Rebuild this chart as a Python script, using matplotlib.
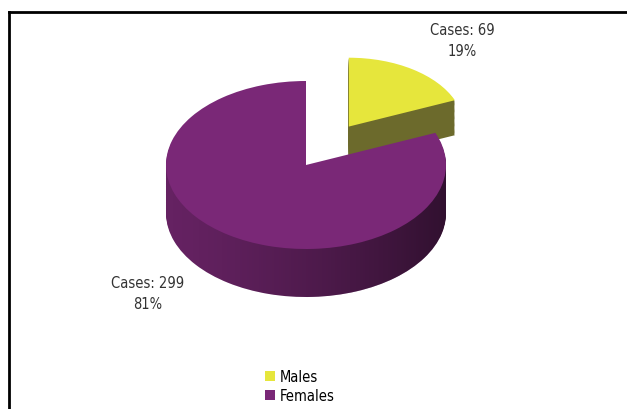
import matplotlib
matplotlib.use("Agg")
import matplotlib.pyplot as plt
from matplotlib.lines import Line2D
from matplotlib.path import Path
from matplotlib.patches import PathPatch
import numpy as np

# Chart data
labels = ["Males", "Females"]
cases = [69, 299]
top_colors = ["#E6E63C", "#7A2877"]
side_colors = ["#6C6A2C", "#652262"]

W, H = 627, 410
fig = plt.figure(figsize=(W / 100, H / 100), dpi=100)
ax = fig.add_axes([0, 0, 1, 1])

# pie geometry (pixels): centre, radii and thickness of the disc
cx, cy = 306, 166
rx, ry = 140, 84
depth_px = 48
yellow_r = 0.82
explode = [0.55, 0]

pcts = [round(100 * c / sum(cases)) for c in cases]


def draw_disc(colors, radius, depth, zbase):
    steps = 30
    for i, off in enumerate(np.linspace(-depth, 0, steps + 1)):
        wedges, _ = ax.pie(cases, colors=colors, radius=radius, explode=explode,
                           startangle=90, counterclock=False,
                           center=(0, off),
                           wedgeprops=dict(linewidth=0))
        for w in wedges:
            w.set_zorder(zbase + i)


# males slice (drawn behind), only the first wedge visible
draw_disc(["#000000", "none"], yellow_r, 35 / ry, 0)
for patch in ax.patches:
    if patch.get_facecolor()[3] > 0:
        on_top = patch.get_zorder() == 30
        patch.set_facecolor(top_colors[0] if on_top else side_colors[0])

n_before = len(ax.patches)
# females slice in front
draw_disc(["none", "#000000"], 1.0, depth_px / ry, 100)
side_paths = []
for patch in ax.patches[n_before:]:
    if patch.get_facecolor()[3] > 0:
        on_top = patch.get_zorder() == 130
        patch.set_facecolor(top_colors[1] if on_top else side_colors[1])
        if not on_top:
            side_paths.append(patch.get_path())

ax.set_aspect("auto")
ax.set_xlim(-cx / rx, (W - cx) / rx)
ax.set_ylim(-(H - cy) / ry, cy / ry)
ax.axis("off")

# shading on the side wall: darker towards the right
shade = np.zeros((2, 256, 4))
shade[..., 3] = np.linspace(0.0, 0.6, 256) ** 1.3
clip = PathPatch(Path.make_compound_path(*side_paths), transform=ax.transData,
                 facecolor="none", edgecolor="none")
img = ax.imshow(shade, extent=(-1.0, 1.0, -1.0 - depth_px / ry, 0.5),
                aspect="auto", zorder=129.5, interpolation="bilinear")
img.set_clip_path(clip)
ax.set_xlim(-cx / rx, (W - cx) / rx)
ax.set_ylim(-(H - cy) / ry, cy / ry)

# data labels
font = ["Liberation Sans Narrow", "DejaVu Sans"]
fig.text(462 / W, 1 - 41 / H, f"Cases: {cases[0]}\n{pcts[0]}%", ha="center",
         va="center", fontsize=10.5, family=font, stretch="condensed",
         color="#333333", linespacing=1.5)
fig.text(148 / W, 1 - 294 / H, f"Cases: {cases[1]}\n{pcts[1]}%", ha="center",
         va="center", fontsize=10.5, family=font, stretch="condensed",
         color="#333333", linespacing=1.5)

# legend
handles = [plt.Rectangle((0, 0), 1, 1, facecolor=c) for c in top_colors]
fig.legend(handles, labels, loc="center", bbox_to_anchor=(300 / W, 1 - 387 / H),
           frameon=False, handlelength=0.7, handleheight=0.7, handletextpad=0.3,
           labelspacing=0.3, prop=dict(family=font, size=10.5, stretch="condensed"))

# outer frame
fig.add_artist(Line2D([9 / W, 1.0], [1 - 13 / H] * 2, color="black", lw=2,
                      transform=fig.transFigure))
fig.add_artist(Line2D([9 / W] * 2, [0, 1 - 13 / H], color="black", lw=2,
                      transform=fig.transFigure))

fig.savefig("out.png", dpi=100)
